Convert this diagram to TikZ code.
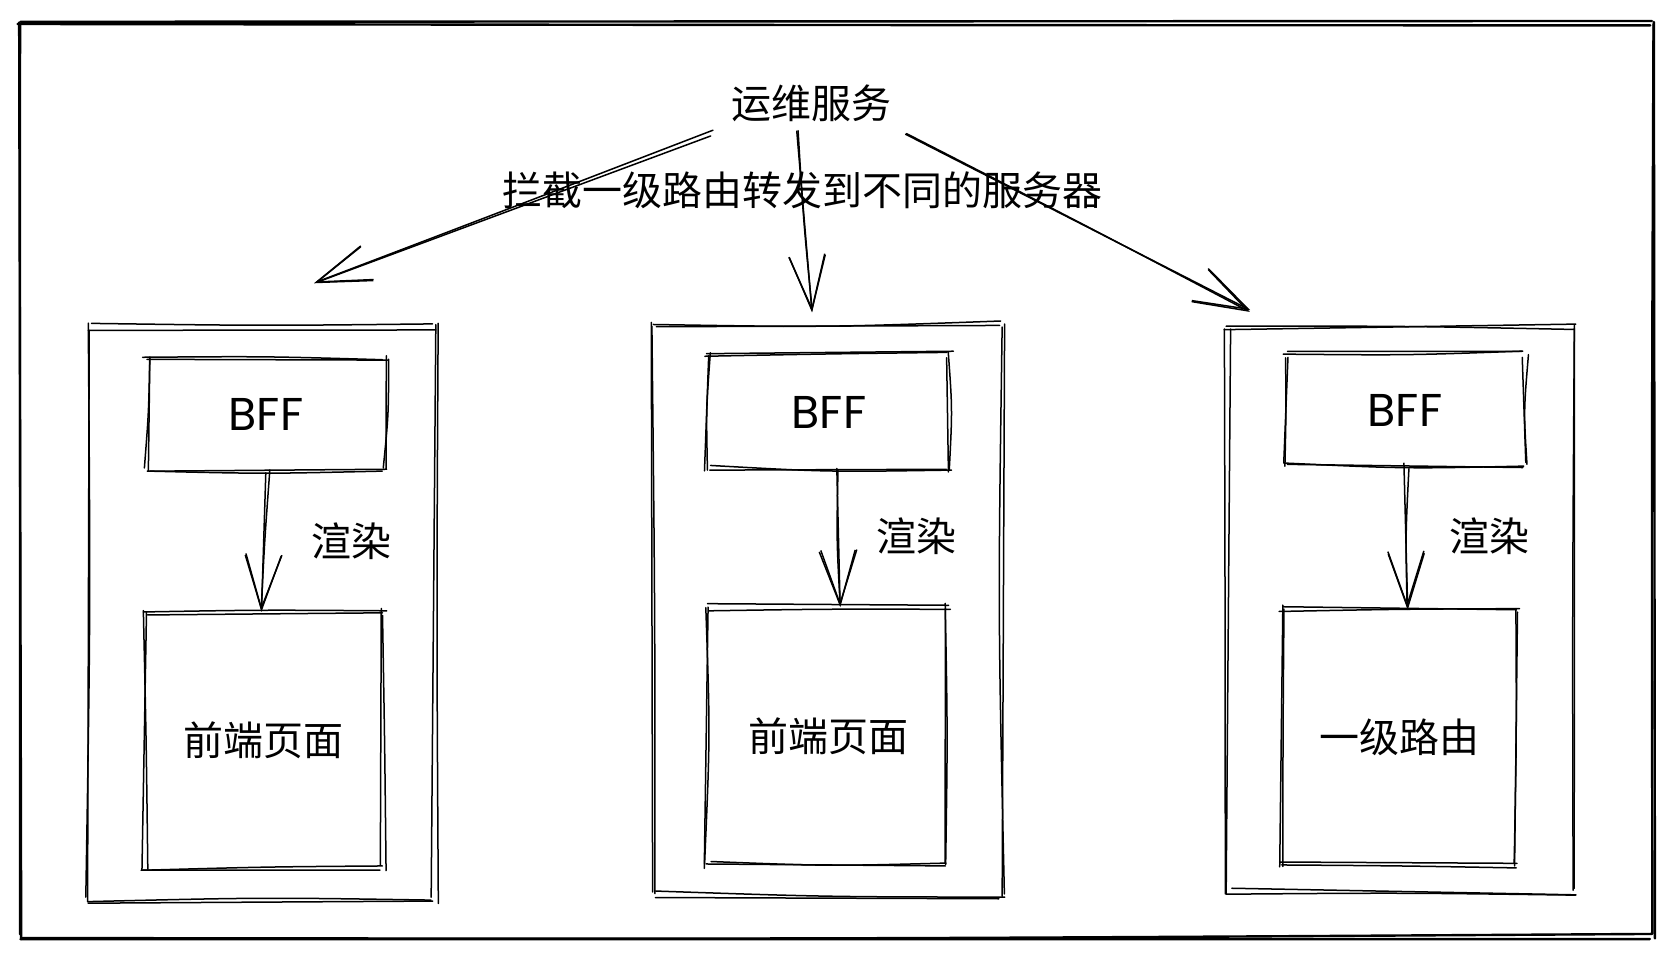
\documentclass[tikz,border=0pt]{standalone}
\usepackage{fontspec}
\newfontfamily\cjk{Noto Sans CJK SC}
\newfontfamily\hand{Poppins}
\usetikzlibrary{calc,arrows.meta}

% one rough stroke drawn twice: once straight, once slightly bowed
\newcommand\skline[3][]{%
  \draw[sk,#1] ($(#2)+({4*rand},{4*rand})$) -- ($(#3)+({4*rand},{4*rand})$);
  \draw[sk,#1] ($(#2)+({4*rand},{4*rand})$)
     .. controls ($(#2)!0.5!(#3)+({3*rand},{3*rand})$) .. ($(#3)+({4*rand},{4*rand})$);}
% a hand-drawn outline around a named node
\newcommand\skrect[2][]{%
  \skline[#1]{#2.north west}{#2.north east}
  \skline[#1]{#2.north east}{#2.south east}
  \skline[#1]{#2.south east}{#2.south west}
  \skline[#1]{#2.south west}{#2.north west}}
% a hand-drawn arrow, shaft and head doubled
\newcommand\skarrow[2]{%
  \draw[sk,sketcharrow] ($(#1)+({3*rand},{3*rand})$) -- ($(#2)+({1.5*rand},{1.5*rand})$);
  \draw[sk,sketcharrow] ($(#1)+({3*rand},{3*rand})$)
     .. controls ($(#1)!0.5!(#2)+({3*rand},{3*rand})$) .. ($(#2)+({1.5*rand},{1.5*rand})$);}

\begin{document}
\begin{tikzpicture}[x=0.5pt,y=-0.5pt,
  sk/.style={line width=0.75pt,line cap=round,line join=round},
  outerline/.style={line width=1.2pt},
  box/.style={draw=none,inner sep=0pt,outer sep=0pt},
  cn/.style={font=\cjk\fontsize{20pt}{24pt}\selectfont},
  bff/.style={font=\hand\fontsize{23pt}{27pt}\selectfont},
  sketcharrow/.style={-{Straight Barb[length=27pt,width=18pt]}}
]
\pgfmathsetseed{11}
\useasboundingbox (0,0) rectangle (1670,958);
\fill[white] (0,0) rectangle (1670,958);

% outer frame
\node[box,minimum width=816pt,minimum height=457pt] (frame) at (835,480) {};
\skrect[outerline]{frame}

% top labels
\node[cn] (svc) at (811,103) {运维服务};
\node[cn] (route) at (802,190) {拦截一级路由转发到不同的服务器};

% three server panels
\node[box,minimum width=173.5pt,minimum height=286.5pt] (p1) at (261.5,613.5) {};
\node[box,minimum width=174pt,minimum height=285pt] (p2) at (827,610) {};
\node[box,minimum width=173pt,minimum height=282.5pt] (p3) at (1401,609.5) {};
\skrect{p1} \skrect{p2} \skrect{p3}

% BFF boxes
\node[box,bff,minimum width=120pt,minimum height=57pt] (b1) at (266,414) {BFF};
\node[box,bff,minimum width=121pt,minimum height=57pt] (b2) at (829,412) {BFF};
\node[box,bff,minimum width=120pt,minimum height=55.5pt] (b3) at (1405,410.5) {BFF};
\skrect{b1} \skrect{b2} \skrect{b3}

% page boxes
\node[box,cn,minimum width=119.5pt,minimum height=128pt] (f1) at (263.5,740) {前端页面};
\node[box,cn,minimum width=120pt,minimum height=129pt] (f2) at (828,736) {前端页面};
\node[box,cn,minimum width=118.5pt,minimum height=128pt] (f3) at (1399.5,737) {一级路由};
\skrect{f1} \skrect{f2} \skrect{f3}

% render labels
\node[cn] (r1) at (351,541) {渲染};
\node[cn] (r2) at (916,536) {渲染};
\node[cn] (r3) at (1489,536) {渲染};

% routing arrows from the ops service
\coordinate (s1) at (711,133);
\coordinate (s2) at (797,133);
\coordinate (s3) at (908,133);
\coordinate (t1) at (314,284);
\coordinate (t2) at (811,312);
\coordinate (t3) at (1251,311);
\skarrow{s1}{t1}
\skarrow{s2}{t2}
\skarrow{s3}{t3}

% render arrows inside each panel
\skarrow{$(b1.south)+(2,0)$}{$(f1.north)+(-1,0)$}
\skarrow{$(b2.south)+(7,0)$}{$(f2.north)+(13,0)$}
\skarrow{$(b3.south)+(1,0)$}{$(f3.north)+(8,0)$}
\end{tikzpicture}
\end{document}
